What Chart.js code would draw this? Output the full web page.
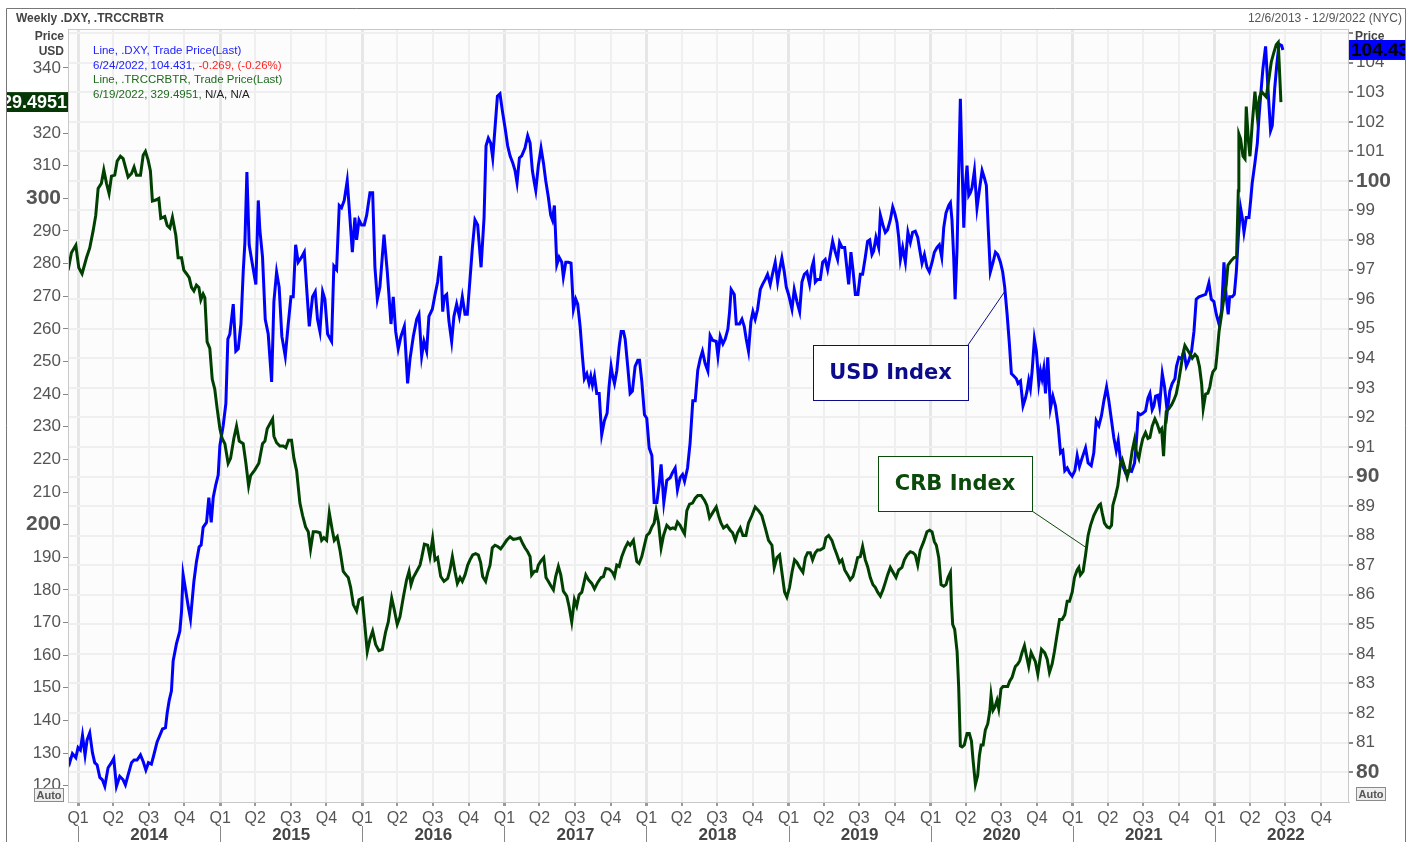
<!DOCTYPE html>
<html lang="en">
<head>
  <meta charset="UTF-8" />
  <title>Weekly .DXY, .TRCCRBTR</title>
  <script src="https://cdn.jsdelivr.net/npm/chart.js"></script>
  <style>
    body {
      margin: 0;
      padding: 0;
      background: #ffffff;
    }
    canvas {
      display: block;
    }
  </style>
</head>
<body>
  <canvas id="chart" width="1413" height="842"></canvas>

  <script>
    // Weekly CRB total return index (left axis), time in decimal years
    const crbYears = [
      2013.93, 2013.953, 2013.984, 2014.005, 2014.028, 2014.059, 2014.082, 2014.106, 2014.124, 2014.141,
      2014.164, 2014.181, 2014.200, 2014.218, 2014.235, 2014.258, 2014.275, 2014.298, 2014.317, 2014.336,
      2014.352, 2014.376, 2014.394, 2014.411, 2014.439, 2014.458, 2014.474, 2014.493, 2014.509, 2014.523,
      2014.547, 2014.568, 2014.582, 2014.610, 2014.627, 2014.646, 2014.664, 2014.688, 2014.704, 2014.728,
      2014.744, 2014.763, 2014.782, 2014.798, 2014.815, 2014.833, 2014.850, 2014.864, 2014.880, 2014.892,
      2014.908, 2014.927, 2014.944, 2014.962, 2014.979, 2014.998, 2015.014, 2015.033, 2015.056, 2015.073,
      2015.096, 2015.115, 2015.134, 2015.162, 2015.181, 2015.200, 2015.214, 2015.244, 2015.272, 2015.298,
      2015.315, 2015.331, 2015.350, 2015.369, 2015.378, 2015.397, 2015.420, 2015.444, 2015.462, 2015.481,
      2015.502, 2015.519, 2015.538, 2015.561, 2015.580, 2015.601, 2015.620, 2015.636, 2015.655, 2015.678,
      2015.702, 2015.714, 2015.730, 2015.749, 2015.768, 2015.789, 2015.803, 2015.824, 2015.843, 2015.866,
      2015.885, 2015.901, 2015.918, 2015.937, 2015.960, 2015.977, 2016.000, 2016.019, 2016.035, 2016.054,
      2016.073, 2016.094, 2016.117, 2016.141, 2016.164, 2016.183, 2016.207, 2016.225, 2016.246, 2016.265,
      2016.289, 2016.312, 2016.329, 2016.343, 2016.359, 2016.383, 2016.406, 2016.418, 2016.437, 2016.460,
      2016.476, 2016.495, 2016.512, 2016.530, 2016.552, 2016.575, 2016.601, 2016.617, 2016.634, 2016.652,
      2016.669, 2016.688, 2016.704, 2016.723, 2016.742, 2016.758, 2016.777, 2016.798, 2016.817, 2016.833,
      2016.847, 2016.868, 2016.883, 2016.899, 2016.915, 2016.934, 2016.953, 2016.974, 2016.993, 2017.016,
      2017.040, 2017.063, 2017.087, 2017.110, 2017.129, 2017.145, 2017.164, 2017.181, 2017.192, 2017.211,
      2017.228, 2017.239, 2017.258, 2017.277, 2017.293, 2017.310, 2017.329, 2017.345, 2017.361, 2017.380,
      2017.397, 2017.415, 2017.439, 2017.455, 2017.474, 2017.493, 2017.509, 2017.526, 2017.545, 2017.573,
      2017.592, 2017.615, 2017.634, 2017.657, 2017.681, 2017.697, 2017.714, 2017.737, 2017.761, 2017.775,
      2017.791, 2017.808, 2017.826, 2017.850, 2017.869, 2017.885, 2017.908, 2017.932, 2017.948, 2017.967,
      2017.986, 2018.002, 2018.021, 2018.038, 2018.054, 2018.068, 2018.085, 2018.103, 2018.120, 2018.143,
      2018.167, 2018.186, 2018.202, 2018.218, 2018.237, 2018.254, 2018.268, 2018.284, 2018.303, 2018.324,
      2018.343, 2018.361, 2018.385, 2018.409, 2018.425, 2018.444, 2018.465, 2018.491, 2018.507, 2018.524,
      2018.542, 2018.566, 2018.589, 2018.606, 2018.625, 2018.641, 2018.660, 2018.679, 2018.700, 2018.718,
      2018.742, 2018.765, 2018.789, 2018.812, 2018.836, 2018.859, 2018.883, 2018.899, 2018.918, 2018.937,
      2018.953, 2018.972, 2018.988, 2019.007, 2019.024, 2019.042, 2019.059, 2019.078, 2019.101, 2019.118,
      2019.134, 2019.153, 2019.169, 2019.188, 2019.204, 2019.223, 2019.247, 2019.263, 2019.282, 2019.305,
      2019.322, 2019.341, 2019.359, 2019.376, 2019.395, 2019.416, 2019.434, 2019.453, 2019.470, 2019.486,
      2019.505, 2019.521, 2019.540, 2019.556, 2019.575, 2019.594, 2019.610, 2019.627, 2019.646, 2019.664,
      2019.681, 2019.697, 2019.716, 2019.735, 2019.756, 2019.775, 2019.798, 2019.815, 2019.834, 2019.857,
      2019.876, 2019.892, 2019.909, 2019.927, 2019.951, 2019.974, 2019.993, 2020.010, 2020.026, 2020.040,
      2020.057, 2020.073, 2020.092, 2020.108, 2020.122, 2020.139, 2020.146, 2020.155, 2020.169, 2020.186,
      2020.197, 2020.209, 2020.221, 2020.237, 2020.256, 2020.272, 2020.287, 2020.298, 2020.315, 2020.331,
      2020.343, 2020.355, 2020.369, 2020.385, 2020.402, 2020.416, 2020.425, 2020.439, 2020.451, 2020.467,
      2020.479, 2020.495, 2020.509, 2020.526, 2020.542, 2020.556, 2020.573, 2020.585, 2020.596, 2020.613,
      2020.627, 2020.643, 2020.660, 2020.674, 2020.690, 2020.707, 2020.721, 2020.737, 2020.754, 2020.780,
      2020.803, 2020.820, 2020.836, 2020.855, 2020.871, 2020.890, 2020.907, 2020.925, 2020.944, 2020.961,
      2020.977, 2020.996, 2021.012, 2021.031, 2021.043, 2021.054, 2021.073, 2021.090, 2021.108, 2021.125,
      2021.148, 2021.165, 2021.184, 2021.195, 2021.207, 2021.223, 2021.242, 2021.259, 2021.273, 2021.282,
      2021.301, 2021.317, 2021.336, 2021.348, 2021.367, 2021.383, 2021.400, 2021.418, 2021.435, 2021.446,
      2021.465, 2021.477, 2021.493, 2021.512, 2021.529, 2021.543, 2021.559, 2021.578, 2021.594, 2021.611,
      2021.625, 2021.639, 2021.648, 2021.658, 2021.676, 2021.695, 2021.712, 2021.728, 2021.742, 2021.759,
      2021.775, 2021.789, 2021.806, 2021.822, 2021.841, 2021.860, 2021.876, 2021.892, 2021.907, 2021.918,
      2021.935, 2021.951, 2021.965, 2021.977, 2021.986, 2022.005, 2022.017, 2022.029, 2022.047, 2022.064,
      2022.080, 2022.092, 2022.111, 2022.134, 2022.153, 2022.165, 2022.169, 2022.181, 2022.198, 2022.212,
      2022.221, 2022.235, 2022.247, 2022.263, 2022.282, 2022.299, 2022.315, 2022.329, 2022.345, 2022.362,
      2022.380, 2022.397, 2022.416, 2022.432, 2022.446, 2022.465
    ];
    const crbValues = [
      278.0, 283.3, 285.6, 278.7, 276.9, 281.8, 284.8, 290.1, 294.7, 303.0,
      304.6, 308.7, 304.6, 301.5, 306.8, 307.1, 311.4, 312.9, 312.2, 309.1,
      306.5, 307.6, 309.6, 307.1, 307.1, 313.2, 314.4, 311.7, 308.4, 299.2,
      299.5, 300.0, 293.9, 294.4, 291.7, 290.9, 294.2, 288.6, 281.8, 281.8,
      278.0, 276.9, 275.7, 272.7, 271.6, 273.4, 272.7, 268.9, 270.7, 269.6,
      256.0, 254.0, 244.6, 241.5, 235.5, 229.4, 226.4, 224.8, 218.8, 220.3,
      226.4, 230.2, 225.6, 224.8, 218.8, 211.9, 215.0, 216.8, 218.8, 224.8,
      225.6, 229.4, 230.9, 232.4, 227.1, 225.1, 224.1, 224.1, 223.6, 225.9,
      225.9, 220.3, 216.5, 206.6, 202.8, 199.3, 197.8, 192.5, 197.8, 197.8,
      197.5, 195.2, 196.0, 195.2, 203.6, 198.3, 195.2, 196.3, 192.2, 185.7,
      184.6, 183.8, 180.8, 175.5, 173.5, 177.0, 177.5, 168.7, 161.1, 164.9,
      167.4, 163.3, 161.4, 161.8, 167.1, 170.2, 177.5, 174.0, 169.4, 171.7,
      177.8, 183.1, 185.7, 181.6, 183.8, 185.7, 187.6, 189.9, 194.0, 193.7,
      190.2, 195.7, 189.2, 189.9, 184.1, 182.6, 183.5, 186.1, 190.2, 185.7,
      182.0, 183.8, 182.6, 184.6, 187.6, 189.2, 190.7, 191.1, 190.7, 188.4,
      184.1, 182.6, 185.4, 187.6, 192.9, 193.7, 193.3, 192.6, 193.7, 195.2,
      196.3, 195.5, 195.7, 196.0, 194.2, 192.9, 191.7, 190.2, 184.6, 185.7,
      185.7, 187.6, 188.9, 189.9, 183.8, 182.6, 181.1, 180.0, 184.1, 187.2,
      184.6, 179.6, 178.1, 175.0, 170.2, 177.0, 175.0, 178.5, 179.3, 184.6,
      183.1, 182.0, 180.3, 182.3, 183.8, 184.1, 186.6, 186.4, 185.4, 184.1,
      187.6, 187.2, 190.2, 192.9, 194.5, 193.7, 195.2, 188.7, 188.1, 190.2,
      193.7, 196.7, 197.5, 199.3, 200.5, 204.3, 200.5, 192.9, 196.7, 199.8,
      198.7, 199.0, 198.7, 200.8, 199.8, 198.3, 197.2, 204.3, 206.3, 206.6,
      208.1, 208.9, 208.9, 207.4, 205.9, 202.1, 203.6, 205.4, 202.8, 200.5,
      199.0, 199.8, 198.3, 197.5, 195.2, 197.5, 199.0, 196.7, 196.7, 200.5,
      202.8, 205.4, 204.3, 202.8, 199.0, 195.2, 193.7, 186.9, 189.9, 190.7,
      185.4, 179.3, 177.8, 180.8, 185.4, 189.2, 188.4, 186.9, 185.4, 189.9,
      191.4, 191.4, 189.2, 191.4, 192.2, 192.2, 192.9, 196.0, 196.7, 195.2,
      192.9, 190.7, 188.4, 189.2, 186.1, 184.6, 183.1, 184.1, 186.9, 189.9,
      190.2, 193.3, 189.2, 187.2, 183.8, 181.6, 180.8, 179.3, 178.1, 180.0,
      182.3, 184.6, 186.9, 185.4, 183.8, 186.1, 186.9, 189.2, 190.7, 191.7,
      191.4, 190.7, 187.6, 192.2, 194.8, 197.8, 198.3, 197.8, 194.8, 193.7,
      189.9, 181.6, 181.1, 181.6, 183.8, 185.4, 176.2, 169.4, 167.9, 161.1,
      150.4, 132.2, 131.9, 132.5, 136.0, 136.0, 133.7, 128.0, 120.4, 123.1,
      129.2, 132.5, 132.5, 137.1, 139.0, 142.8, 147.7, 143.1, 144.0, 146.2,
      143.6, 149.7, 150.4, 150.4, 150.4, 152.0, 153.2, 155.0, 156.5, 157.3,
      158.3, 160.8, 162.9, 159.8, 156.5, 160.8, 159.5, 158.0, 154.2, 161.8,
      160.7, 158.8, 154.7, 157.3, 161.1, 166.4, 170.9, 170.9, 172.4, 176.5,
      176.5, 179.3, 183.8, 186.1, 186.9, 184.6, 185.7, 190.7, 196.7, 199.8,
      202.8, 204.3, 205.9, 206.3, 203.6, 200.5, 199.3, 199.0, 199.8, 205.9,
      208.9, 211.9, 218.8, 220.0, 217.2, 214.5, 217.2, 222.6, 226.1, 222.6,
      220.3, 223.3, 226.4, 228.2, 226.4, 226.7, 230.2, 232.4, 230.9, 228.6,
      229.4, 221.0, 228.6, 234.7, 235.5, 236.7, 238.2, 240.0, 243.1, 247.6,
      252.2, 254.9, 253.7, 252.5, 251.0, 252.2, 251.4, 248.4, 243.1, 235.5,
      240.0, 240.3, 242.3, 245.3, 246.8, 247.9, 252.9, 259.0, 264.3, 269.6,
      273.4, 279.5, 280.7, 281.8, 282.1, 302.3, 319.7, 318.2, 312.9, 312.1,
      328.1, 318.2, 312.9, 322.8, 332.7, 325.1, 331.1, 332.7, 331.9, 331.1,
      336.5, 341.8, 344.8, 347.1, 347.8, 329.4951
    ];

    // Weekly US dollar index (right axis), time in decimal years
    const dxyYears = [
      2013.93, 2013.941, 2013.960, 2013.984, 2014.000, 2014.016, 2014.031, 2014.049, 2014.063, 2014.082,
      2014.101, 2014.117, 2014.134, 2014.153, 2014.171, 2014.188, 2014.211, 2014.235, 2014.251, 2014.270,
      2014.293, 2014.317, 2014.333, 2014.352, 2014.376, 2014.394, 2014.415, 2014.439, 2014.458, 2014.477,
      2014.495, 2014.516, 2014.533, 2014.556, 2014.575, 2014.594, 2014.615, 2014.627, 2014.641, 2014.657,
      2014.669, 2014.692, 2014.716, 2014.728, 2014.739, 2014.756, 2014.775, 2014.791, 2014.815, 2014.833,
      2014.852, 2014.866, 2014.880, 2014.904, 2014.920, 2014.937, 2014.951, 2014.969, 2014.986, 2014.998,
      2015.021, 2015.040, 2015.054, 2015.068, 2015.092, 2015.110, 2015.127, 2015.146, 2015.162, 2015.174,
      2015.188, 2015.204, 2015.221, 2015.251, 2015.268, 2015.279, 2015.298, 2015.317, 2015.338, 2015.362,
      2015.378, 2015.397, 2015.415, 2015.434, 2015.458, 2015.479, 2015.498, 2015.514, 2015.531, 2015.549,
      2015.573, 2015.592, 2015.608, 2015.627, 2015.650, 2015.669, 2015.685, 2015.702, 2015.721, 2015.737,
      2015.756, 2015.784, 2015.800, 2015.819, 2015.838, 2015.854, 2015.873, 2015.894, 2015.908, 2015.930,
      2015.948, 2015.960, 2015.977, 2015.995, 2016.014, 2016.031, 2016.054, 2016.073, 2016.089, 2016.106,
      2016.124, 2016.153, 2016.176, 2016.202, 2016.218, 2016.235, 2016.253, 2016.272, 2016.296, 2016.319,
      2016.336, 2016.359, 2016.383, 2016.399, 2016.418, 2016.434, 2016.453, 2016.469, 2016.493, 2016.512,
      2016.530, 2016.552, 2016.566, 2016.577, 2016.594, 2016.610, 2016.629, 2016.645, 2016.664, 2016.683,
      2016.704, 2016.723, 2016.739, 2016.758, 2016.775, 2016.793, 2016.812, 2016.836, 2016.857, 2016.871,
      2016.887, 2016.904, 2016.918, 2016.934, 2016.951, 2016.969, 2016.986, 2017.005, 2017.023, 2017.040,
      2017.059, 2017.075, 2017.089, 2017.106, 2017.122, 2017.145, 2017.164, 2017.181, 2017.197, 2017.211,
      2017.221, 2017.239, 2017.258, 2017.275, 2017.291, 2017.310, 2017.326, 2017.338, 2017.352, 2017.369,
      2017.385, 2017.404, 2017.415, 2017.432, 2017.451, 2017.469, 2017.486, 2017.502, 2017.516, 2017.533,
      2017.549, 2017.563, 2017.580, 2017.596, 2017.608, 2017.620, 2017.634, 2017.650, 2017.667, 2017.685,
      2017.704, 2017.723, 2017.737, 2017.751, 2017.761, 2017.775, 2017.791, 2017.808, 2017.822, 2017.838,
      2017.850, 2017.868, 2017.885, 2017.901, 2017.920, 2017.939, 2017.951, 2017.967, 2017.986, 2018.002,
      2018.019, 2018.038, 2018.054, 2018.073, 2018.089, 2018.103, 2018.122, 2018.143, 2018.167, 2018.183,
      2018.202, 2018.218, 2018.237, 2018.254, 2018.268, 2018.289, 2018.307, 2018.326, 2018.343, 2018.361,
      2018.378, 2018.394, 2018.413, 2018.432, 2018.448, 2018.465, 2018.491, 2018.503, 2018.519, 2018.538,
      2018.554, 2018.573, 2018.585, 2018.596, 2018.618, 2018.632, 2018.655, 2018.672, 2018.688, 2018.702,
      2018.718, 2018.735, 2018.749, 2018.765, 2018.782, 2018.801, 2018.817, 2018.836, 2018.852, 2018.871,
      2018.890, 2018.906, 2018.923, 2018.937, 2018.953, 2018.970, 2018.984, 2019.000, 2019.024, 2019.040,
      2019.059, 2019.078, 2019.094, 2019.111, 2019.129, 2019.148, 2019.164, 2019.176, 2019.188, 2019.204,
      2019.223, 2019.240, 2019.258, 2019.275, 2019.294, 2019.310, 2019.329, 2019.345, 2019.359, 2019.376,
      2019.395, 2019.406, 2019.423, 2019.439, 2019.453, 2019.470, 2019.488, 2019.505, 2019.521, 2019.540,
      2019.556, 2019.571, 2019.587, 2019.599, 2019.615, 2019.634, 2019.646, 2019.664, 2019.681, 2019.697,
      2019.716, 2019.733, 2019.747, 2019.763, 2019.775, 2019.787, 2019.803, 2019.822, 2019.840, 2019.857,
      2019.873, 2019.892, 2019.909, 2019.923, 2019.939, 2019.956, 2019.974, 2019.991, 2020.010, 2020.026,
      2020.045, 2020.061, 2020.078, 2020.092, 2020.108, 2020.127, 2020.139, 2020.150, 2020.162, 2020.172,
      2020.186, 2020.197, 2020.209, 2020.221, 2020.233, 2020.244, 2020.256, 2020.268, 2020.279, 2020.291,
      2020.308, 2020.326, 2020.345, 2020.362, 2020.378, 2020.392, 2020.404, 2020.420, 2020.439, 2020.456,
      2020.472, 2020.491, 2020.507, 2020.521, 2020.538, 2020.554, 2020.568, 2020.585, 2020.603, 2020.615,
      2020.632, 2020.650, 2020.667, 2020.678, 2020.690, 2020.702, 2020.714, 2020.730, 2020.744, 2020.761,
      2020.773, 2020.784, 2020.796, 2020.808, 2020.824, 2020.843, 2020.860, 2020.878, 2020.897, 2020.914,
      2020.930, 2020.944, 2020.961, 2020.977, 2020.996, 2021.015, 2021.031, 2021.047, 2021.066, 2021.090,
      2021.108, 2021.130, 2021.148, 2021.165, 2021.184, 2021.202, 2021.219, 2021.238, 2021.254, 2021.273,
      2021.289, 2021.306, 2021.320, 2021.336, 2021.353, 2021.371, 2021.390, 2021.414, 2021.435, 2021.446,
      2021.461, 2021.477, 2021.493, 2021.512, 2021.529, 2021.543, 2021.559, 2021.571, 2021.583, 2021.599,
      2021.611, 2021.630, 2021.646, 2021.665, 2021.683, 2021.700, 2021.719, 2021.730, 2021.747, 2021.766,
      2021.782, 2021.799, 2021.817, 2021.836, 2021.853, 2021.869, 2021.888, 2021.911, 2021.935, 2021.946,
      2021.958, 2021.975, 2021.993, 2022.010, 2022.029, 2022.047, 2022.064, 2022.080, 2022.094, 2022.104,
      2022.122, 2022.137, 2022.151, 2022.165, 2022.181, 2022.193, 2022.205, 2022.221, 2022.240, 2022.252,
      2022.263, 2022.282, 2022.299, 2022.310, 2022.322, 2022.338, 2022.357, 2022.376, 2022.392, 2022.404,
      2022.421, 2022.435, 2022.451, 2022.470, 2022.479
    ];
    const dxyValues = [
      80.49, 80.32, 80.63, 80.49, 80.83, 80.75, 81.24, 80.58, 81.08, 81.33,
      80.66, 80.32, 80.24, 79.82, 79.74, 79.52, 80.15, 80.32, 80.46, 79.52,
      79.86, 79.74, 79.57, 79.91, 80.32, 80.41, 80.41, 80.58, 80.36, 80.07,
      80.32, 80.27, 80.58, 81.02, 81.24, 81.46, 81.50, 82.00, 82.42, 82.75,
      83.76, 84.34, 84.77, 85.44, 86.69, 86.19, 85.61, 85.18, 86.45, 87.12,
      87.62, 87.68, 88.28, 88.45, 89.29, 88.45, 89.29, 89.72, 90.05, 91.05,
      91.72, 92.47, 94.65, 94.82, 95.83, 94.24, 94.32, 95.16, 96.92, 97.92,
      100.30, 97.84, 97.34, 96.50, 99.34, 98.35, 97.42, 95.32, 94.82, 93.20,
      95.92, 96.92, 96.41, 94.74, 94.07, 95.16, 96.08, 96.08, 97.84, 97.25,
      97.42, 97.59, 96.41, 95.08, 96.08, 96.25, 95.32, 94.91, 96.25, 96.00,
      94.82, 94.57, 97.12, 97.00, 99.17, 99.09, 99.34, 100.01, 99.09, 97.59,
      98.76, 98.01, 98.68, 98.51, 98.51, 98.84, 99.60, 99.60, 97.08, 96.00,
      96.41, 98.18, 96.92, 95.16, 96.08, 94.91, 94.32, 94.74, 95.08, 93.15,
      93.98, 94.74, 95.32, 95.49, 94.07, 94.57, 94.24, 95.42, 95.66, 96.16,
      96.58, 97.46, 95.58, 96.08, 96.16, 95.25, 94.57, 95.42, 95.83, 95.42,
      96.08, 95.49, 95.49, 96.67, 97.75, 98.68, 98.51, 97.08, 98.76, 101.19,
      101.45, 101.28, 100.78, 101.79, 102.87, 102.95, 102.37, 101.79, 101.19, 100.85,
      100.61, 100.35, 99.94, 100.78, 100.85, 101.11, 101.53, 101.28, 100.35, 99.94,
      99.68, 100.52, 101.11, 100.61, 100.01, 99.43, 98.84, 98.68, 99.17, 97.17,
      97.42, 97.25, 96.75, 97.25, 97.25, 97.22, 95.66, 96.00, 95.83, 95.08,
      94.07, 93.31, 93.48, 93.15, 93.40, 93.09, 93.40, 92.81, 92.81, 91.42,
      91.89, 92.14, 93.06, 93.73, 93.43, 93.15, 93.57, 94.41, 94.91, 94.91,
      94.65, 93.73, 92.81, 92.89, 93.73, 93.93, 93.93, 93.23, 92.09, 91.97,
      90.97, 90.71, 89.12, 89.12, 89.72, 90.41, 89.12, 89.87, 89.96, 90.13,
      90.29, 89.55, 89.96, 90.07, 89.84, 90.29, 91.14, 92.56, 92.56, 93.60,
      93.98, 94.24, 93.82, 93.57, 94.77, 94.61, 94.57, 94.07, 94.74, 94.49,
      94.65, 94.99, 95.58, 96.33, 96.16, 95.16, 95.16, 95.32, 95.08, 94.65,
      94.24, 95.25, 95.58, 95.32, 95.66, 96.33, 96.50, 96.67, 96.84, 96.50,
      96.92, 97.25, 96.58, 97.00, 97.39, 96.92, 96.41, 96.16, 95.66, 96.33,
      95.92, 95.58, 96.58, 96.84, 96.92, 96.50, 97.08, 97.29, 96.58, 96.67,
      96.67, 97.25, 97.34, 97.00, 97.51, 97.96, 97.59, 97.34, 97.92, 97.75,
      97.75, 97.25, 96.50, 97.59, 97.00, 96.16, 96.16, 96.84, 96.84, 97.42,
      97.96, 98.01, 97.51, 97.63, 98.09, 97.75, 98.84, 98.51, 98.26, 98.35,
      98.68, 99.12, 98.92, 98.59, 98.09, 97.34, 97.75, 97.25, 98.26, 97.92,
      98.26, 98.30, 98.09, 97.67, 97.22, 97.51, 97.08, 96.92, 97.25, 97.59,
      97.75, 97.84, 97.42, 98.42, 98.92, 99.17, 99.26, 98.68, 97.42, 96.00,
      97.75, 100.27, 102.78, 100.52, 98.42, 99.77, 100.52, 99.51, 99.60, 99.77,
      100.35, 99.09, 99.77, 100.35, 100.10, 99.85, 98.51, 96.92, 97.25, 97.59,
      97.51, 97.25, 96.92, 96.41, 95.49, 94.49, 93.48, 93.40, 93.31, 93.15,
      93.23, 92.39, 92.65, 92.89, 93.26, 92.98, 93.57, 94.65, 94.24, 93.15,
      93.57, 93.31, 93.65, 92.81, 94.03, 92.31, 92.72, 92.39, 91.72, 90.80,
      90.88, 90.20, 90.29, 90.13, 90.01, 90.20, 90.71, 90.34, 90.63, 90.97,
      90.46, 90.37, 90.80, 91.89, 91.72, 92.06, 92.56, 93.03, 92.56, 91.89,
      91.31, 90.88, 91.22, 90.54, 90.34, 90.13, 90.20, 90.17, 90.46, 91.05,
      92.14, 92.09, 92.14, 92.22, 92.65, 92.81, 92.26, 92.39, 92.72, 92.75,
      92.39, 93.48, 93.03, 92.19, 92.89, 93.15, 93.31, 93.73, 94.03, 93.98,
      94.24, 93.73, 93.93, 94.24, 94.91, 96.00, 96.08, 96.12, 96.16, 96.33,
      96.55, 96.00, 95.92, 95.49, 95.16, 95.58, 97.25, 96.08, 95.49, 96.08,
      96.08, 96.16, 96.92, 98.09, 99.09, 98.76, 98.26, 98.76, 98.76, 99.34,
      99.94, 100.61, 101.28, 102.12, 102.87, 103.79, 104.55, 102.95, 101.70, 101.87,
      103.12, 103.88, 104.63, 104.58, 104.431
    ];

    // Axis ticks and labels
    const crbTicks = [120, 130, 140, 150, 160, 170, 180, 190, 200, 210, 220, 230,
                      240, 250, 260, 270, 280, 290, 300, 310, 320, 330, 340];
    const crbBold = [200, 300];
    const dxyTicks = [80, 81, 82, 83, 84, 85, 86, 87, 88, 89, 90, 91, 92,
                      93, 94, 95, 96, 97, 98, 99, 100, 101, 102, 103, 104, 105];
    const dxyBold = [80, 90, 100];
    const years = [2014, 2015, 2016, 2017, 2018, 2019, 2020, 2021, 2022];
    const quarterLabels = ['Q1', 'Q2', 'Q3', 'Q4'];
    const quarterStarts = [0, 90 / 365, 181 / 365, 273 / 365];

    // Callout labels, anchored in data units
    const usdNote = { text: 'USD Index', x: 2020.52, y: 96.25 };
    const crbNote = { text: 'CRB Index', x: 2021.10, y: 192.8 };

    const FONT = '"Liberation Sans", Arial, sans-serif';
    const plainTick = { family: FONT, size: 17 };
    const boldTick = { family: FONT, size: 21, weight: 'bold' };

    const quarterTicks = [];
    years.forEach(y => quarterStarts.forEach(q => quarterTicks.push({ value: y + q })));

    const crbPoints = crbYears.map((x, i) => ({ x: x, y: crbValues[i] }));
    const dxyPoints = dxyYears.map((x, i) => ({ x: x, y: dxyValues[i] }));

    function textRun(ctx, x, y, parts) {
      parts.forEach(p => {
        ctx.fillStyle = p[1];
        ctx.fillText(p[0], x, y);
        x += ctx.measureText(p[0]).width;
      });
    }

    function autoBox(ctx, x, y) {
      ctx.fillStyle = '#eeeeee';
      ctx.fillRect(x, y, 29, 13);
      ctx.strokeStyle = '#8a8a8a';
      ctx.lineWidth = 1;
      ctx.strokeRect(x + 0.5, y + 0.5, 29, 13);
      ctx.fillStyle = '#555';
      ctx.font = 'bold 11px ' + FONT;
      ctx.textAlign = 'center';
      ctx.fillText('Auto', x + 15, y + 7.5);
    }

    function callout(ctx, box, corner, to, text, color) {
      ctx.strokeStyle = color;
      ctx.lineWidth = 1;
      ctx.beginPath();
      ctx.moveTo(corner[0], corner[1]);
      ctx.lineTo(to[0], to[1]);
      ctx.stroke();
      ctx.fillStyle = '#ffffff';
      ctx.fillRect(box[0], box[1], box[2], box[3]);
      ctx.strokeRect(box[0] + 0.5, box[1] + 0.5, box[2], box[3]);
      ctx.fillStyle = color;
      ctx.font = 'bold 21px "DejaVu Sans", sans-serif';
      ctx.textAlign = 'center';
      ctx.textBaseline = 'middle';
      ctx.fillText(text, box[0] + box[2] / 2, box[1] + box[3] / 2 + 1);
    }

    const framePlugin = {
      id: 'frame',
      beforeDraw(chart) {
        const { ctx, chartArea: a } = chart;
        ctx.save();
        ctx.fillStyle = '#ffffff';
        ctx.fillRect(0, 0, chart.width, chart.height);
        ctx.fillStyle = '#fcfcfc';
        ctx.fillRect(a.left, a.top, a.right - a.left, a.bottom - a.top);
        ctx.restore();
      },
      afterDraw(chart) {
        const { ctx, chartArea: a } = chart;
        const xs = chart.scales.x, yL = chart.scales.yL, yR = chart.scales.yR;
        ctx.save();

        // plot border and outer frame
        ctx.strokeStyle = '#c8c8c8';
        ctx.lineWidth = 1;
        ctx.strokeRect(a.left + 0.5, a.top + 0.5, a.right - a.left, a.bottom - a.top);
        ctx.strokeStyle = '#777';
        ctx.beginPath();
        ctx.moveTo(6.5, 842); ctx.lineTo(6.5, 8.5); ctx.lineTo(1405.5, 8.5); ctx.lineTo(1405.5, 842);
        ctx.stroke();

        // header
        ctx.textBaseline = 'middle';
        ctx.font = 'bold 12px ' + FONT;
        ctx.fillStyle = '#444';
        ctx.textAlign = 'left';
        ctx.fillText('Weekly .DXY, .TRCCRBTR', 16, 19);
        ctx.textAlign = 'right';
        ctx.fillText('Price', 64, 37);
        ctx.fillText('USD', 64, 52);
        ctx.textAlign = 'left';
        ctx.fillText('Price', 1355, 37);
        ctx.font = '12px ' + FONT;
        ctx.fillStyle = '#555';
        ctx.textAlign = 'right';
        ctx.fillText('12/6/2013 - 12/9/2022 (NYC)', 1402, 19);

        // legend
        ctx.textAlign = 'left';
        ctx.font = '11.5px ' + FONT;
        textRun(ctx, 93, 51, [['Line, .DXY, Trade Price(Last)', '#2222ff']]);
        textRun(ctx, 93, 66, [['6/24/2022, 104.431, ', '#2222ff'], ['-0.269, (-0.26%)', '#ff2222']]);
        textRun(ctx, 93, 80, [['Line, .TRCCRBTR, Trade Price(Last)', '#1e6a1e']]);
        textRun(ctx, 93, 95, [['6/19/2022, 329.4951, ', '#1e6a1e'], ['N/A, N/A', '#222']]);

        // last value boxes
        const lastCrb = crbValues[crbValues.length - 1];
        const lastDxy = dxyValues[dxyValues.length - 1];
        const cy = yL.getPixelForValue(lastCrb);
        ctx.save();
        ctx.beginPath();
        ctx.rect(7, cy - 10, 61, 20);
        ctx.clip();
        ctx.fillStyle = '#063806';
        ctx.fillRect(7, cy - 10, 61, 20);
        ctx.fillStyle = '#ffffff';
        ctx.font = 'bold 18px ' + FONT;
        ctx.textAlign = 'right';
        ctx.fillText(lastCrb.toFixed(4), 67, cy + 1);
        ctx.restore();

        const dy = yR.getPixelForValue(lastDxy);
        ctx.save();
        ctx.beginPath();
        ctx.rect(a.right + 1, dy - 10, 1405 - a.right - 1, 20);
        ctx.clip();
        ctx.fillStyle = '#0000ff';
        ctx.fillRect(a.right + 1, dy - 10, 1405 - a.right - 1, 20);
        ctx.fillStyle = '#000';
        ctx.font = 'bold 19px ' + FONT;
        ctx.textAlign = 'left';
        ctx.fillText(lastDxy.toFixed(2), a.right + 3, dy + 1);
        ctx.restore();

        autoBox(ctx, 34, 788);
        autoBox(ctx, 1356, 787);

        // years under the quarters
        ctx.strokeStyle = '#888';
        ctx.lineWidth = 1;
        ctx.font = 'bold 17px ' + FONT;
        ctx.fillStyle = '#444';
        ctx.textAlign = 'center';
        years.forEach(y => {
          const x0 = Math.round(xs.getPixelForValue(y)) + 0.5;
          ctx.beginPath();
          ctx.moveTo(x0, 826);
          ctx.lineTo(x0, 842);
          ctx.stroke();
          ctx.fillText(String(y), xs.getPixelForValue(y + 0.5), 835);
        });

        // callouts
        callout(ctx, [813, 345, 155, 55], [968, 345],
          [xs.getPixelForValue(usdNote.x), yR.getPixelForValue(usdNote.y)], usdNote.text, '#0c0c8a');
        callout(ctx, [878, 456, 154, 55], [1032, 511],
          [xs.getPixelForValue(crbNote.x), yL.getPixelForValue(crbNote.y)], crbNote.text, '#0b4a0b');

        ctx.restore();
      }
    };

    new Chart(document.getElementById('chart'), {
      type: 'line',
      data: {
        datasets: [
          {
            label: '.TRCCRBTR',
            data: crbPoints,
            yAxisID: 'yL',
            borderColor: '#004000',
            borderWidth: 3,
            pointRadius: 0,
            tension: 0,
            fill: false
          },
          {
            label: '.DXY',
            data: dxyPoints,
            yAxisID: 'yR',
            borderColor: '#0000ff',
            borderWidth: 3,
            pointRadius: 0,
            tension: 0,
            fill: false
          }
        ]
      },
      options: {
        responsive: false,
        animation: false,
        layout: { padding: { top: 29, left: 0, right: 0, bottom: 0 } },
        plugins: {
          legend: { display: false },
          tooltip: { enabled: false }
        },
        scales: {
          x: {
            type: 'linear',
            min: 2013.929,
            max: 2022.937,
            afterBuildTicks: s => { s.ticks = quarterTicks.map(t => ({ value: t.value })); },
            afterFit: s => { s.height = 40; },
            grid: {
              color: c => (quarterTicks.findIndex(t => t.value === c.tick.value) % 4 === 0 ? '#e6e6e6' : '#efefef'),
              lineWidth: c => (quarterTicks.findIndex(t => t.value === c.tick.value) % 4 === 0 ? 3 : 2),
              tickColor: '#999',
              tickLength: 4
            },
            border: { color: '#c8c8c8' },
            ticks: {
              autoSkip: false,
              maxRotation: 0,
              padding: 3,
              color: '#555',
              font: { family: FONT, size: 16 },
              callback: (v, i) => quarterLabels[i % 4]
            }
          },
          yL: {
            type: 'linear',
            position: 'left',
            min: 115,
            max: 351.9,
            afterBuildTicks: s => { s.ticks = crbTicks.map(v => ({ value: v })); },
            afterFit: s => { s.width = 68; },
            grid: { drawOnChartArea: false, tickColor: '#888', tickLength: 5 },
            border: { color: '#c8c8c8' },
            ticks: {
              autoSkip: false,
              padding: 2,
              color: '#555',
              font: c => (c.tick && crbBold.includes(c.tick.value) ? boldTick : plainTick),
              callback: v => String(v)
            }
          },
          yR: {
            type: 'linear',
            position: 'right',
            min: 78.99,
            max: 105.14,
            afterBuildTicks: s => { s.ticks = dxyTicks.map(v => ({ value: v })); },
            afterFit: s => { s.width = 65; },
            grid: { color: '#efefef', lineWidth: 2, tickColor: '#888', tickLength: 5 },
            border: { color: '#c8c8c8' },
            ticks: {
              autoSkip: false,
              padding: 3,
              color: '#555',
              font: c => (c.tick && dxyBold.includes(c.tick.value) ? boldTick : plainTick),
              callback: v => (v > 104 ? '' : String(v))
            }
          }
        }
      },
      plugins: [framePlugin]
    });
  </script>
</body>
</html>
